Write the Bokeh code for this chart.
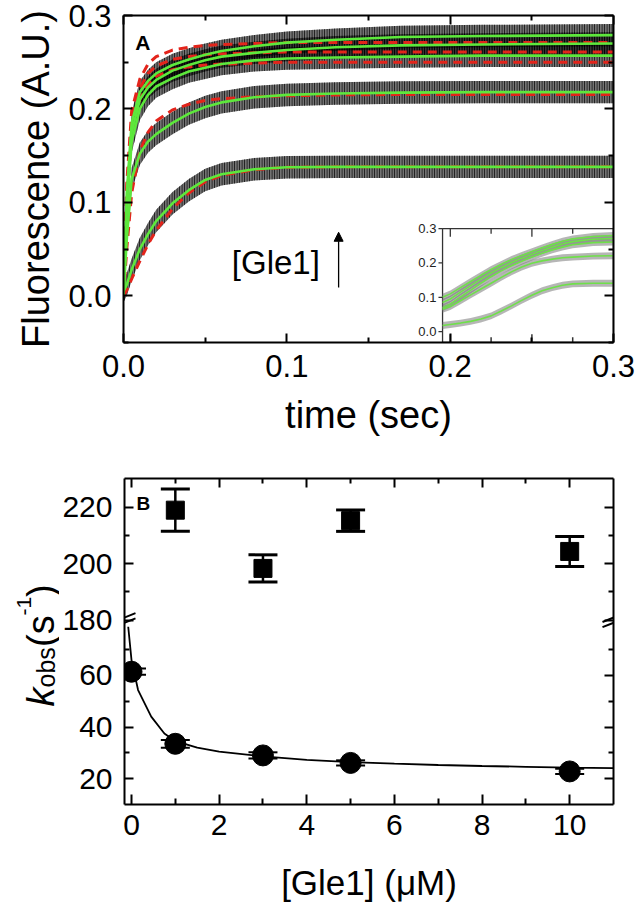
import math
import numpy as np
from bokeh.plotting import figure
from bokeh.models import Range1d, LinearAxis, FixedTicker, Label, Arrow, NormalHead
from bokeh.layouts import column, row
from bokeh.embed import file_html
from bokeh.resources import INLINE
from bokeh.core.properties import value

FONT = "Liberation Sans"

# ---------------- Panel A: stopped-flow traces ----------------
time_s = [0.0, 0.002, 0.005, 0.01, 0.015, 0.02, 0.03, 0.04, 0.05, 0.06, 0.08, 0.10, 0.13, 0.17, 0.22, 0.30]
# double-exponential fits (green)
fit2_1 = [0.0, 0.110, 0.185, 0.218, 0.230, 0.238, 0.247, 0.253, 0.258, 0.262, 0.267, 0.271, 0.274, 0.277, 0.278, 0.279]
fit2_2 = [0.0, 0.100, 0.175, 0.210, 0.223, 0.231, 0.241, 0.247, 0.252, 0.256, 0.260, 0.263, 0.266, 0.268, 0.269, 0.270]
fit2_3 = [0.0, 0.090, 0.165, 0.200, 0.215, 0.224, 0.233, 0.240, 0.244, 0.248, 0.252, 0.254, 0.255, 0.256, 0.257, 0.257]
fit2_4 = [0.0, 0.060, 0.125, 0.152, 0.165, 0.173, 0.185, 0.195, 0.202, 0.207, 0.2125, 0.215, 0.2165, 0.2175, 0.218, 0.218]
fit2_5 = [0.005, 0.012, 0.028, 0.050, 0.066, 0.080, 0.099, 0.113, 0.124, 0.130, 0.1355, 0.1375, 0.138, 0.138, 0.138, 0.138]
# single-exponential fits (red dashed)
fit1_1 = [0.0, 0.120, 0.198, 0.232, 0.248, 0.256, 0.263, 0.266, 0.268, 0.269, 0.270, 0.271, 0.271, 0.271, 0.271, 0.271]
fit1_2 = [0.0, 0.110, 0.188, 0.222, 0.238, 0.246, 0.253, 0.256, 0.258, 0.259, 0.260, 0.261, 0.261, 0.261, 0.261, 0.261]
fit1_3 = [0.0, 0.100, 0.175, 0.210, 0.226, 0.235, 0.242, 0.245, 0.247, 0.248, 0.249, 0.250, 0.250, 0.250, 0.250, 0.250]
fit1_4 = [0.0, 0.050, 0.110, 0.155, 0.175, 0.187, 0.199, 0.205, 0.209, 0.211, 0.213, 0.214, 0.215, 0.2155, 0.2155, 0.2155]
fit1_5 = [0.0, 0.006, 0.018, 0.037, 0.055, 0.070, 0.093, 0.110, 0.122, 0.129, 0.135, 0.1375, 0.138, 0.138, 0.138, 0.138]
trace_spread = 0.012          # half width of the noisy data band around each trace

time_ticks = [0.0, 0.1, 0.2, 0.3]
time_tick_labels = ["0.0", "0.1", "0.2", "0.3"]
fluo_ticks = [0.0, 0.1, 0.2, 0.3]
fluo_tick_labels = ["0.0", "0.1", "0.2", "0.3"]

# inset (early times)
inset_t = [-0.19, 0.0, 0.25, 0.5, 0.75, 1.0, 1.25, 1.5, 1.75, 2.0, 2.25, 2.5, 2.75, 3.0, 3.5, 4.0]
inset_1 = [0.100, 0.110, 0.128, 0.146, 0.164, 0.181, 0.196, 0.210, 0.222, 0.233, 0.244, 0.254, 0.263, 0.270, 0.277, 0.280]
inset_2 = [0.085, 0.095, 0.115, 0.134, 0.153, 0.171, 0.187, 0.201, 0.214, 0.225, 0.236, 0.246, 0.255, 0.262, 0.269, 0.271]
inset_3 = [0.070, 0.080, 0.101, 0.121, 0.141, 0.160, 0.177, 0.192, 0.205, 0.217, 0.228, 0.238, 0.246, 0.253, 0.259, 0.261]
inset_4 = [0.065, 0.073, 0.090, 0.107, 0.124, 0.141, 0.158, 0.174, 0.188, 0.199, 0.206, 0.211, 0.215, 0.217, 0.220, 0.221]
inset_5 = [0.018, 0.021, 0.025, 0.030, 0.037, 0.046, 0.060, 0.075, 0.091, 0.106, 0.119, 0.128, 0.135, 0.139, 0.141, 0.141]
inset_spread = 0.010
inset_yticks = [0.0, 0.1, 0.2, 0.3]
inset_ytick_labels = ["0.0", "0.1", "0.2", "0.3"]
inset_xticks = [0, 1, 2, 3, 4]

# ---------------- Panel B: kobs vs [Gle1] ----------------
gle1_fast = [1, 3, 5, 10]
kobs_fast = [218.9, 198.3, 215.2, 204.3]
kobs_fast_err = [7.5, 4.8, 3.8, 5.3]
gle1_slow = [0, 1, 3, 5, 10]
kobs_slow = [61.4, 33.5, 29.0, 26.1, 22.8]
kobs_slow_err = [1.2, 1.5, 1.2, 1.0, 1.0]
fit_gle1 = [-0.075, 0.0, 0.15, 0.45, 0.75, 1.0, 1.5, 2, 3, 4, 5, 6, 7, 8, 9, 10, 11]
fit_kobs = [78.8, 65.9, 54.3, 44.0, 37.5, 34.5, 32.0, 30.5, 28.6, 27.3, 26.4, 25.8, 25.3, 24.9, 24.6, 24.3, 24.1]

gle1_ticks = [0, 2, 4, 6, 8, 10]
gle1_minor = [1, 3, 5, 7, 9]
low_ticks = [20, 40, 60]
low_minor = [30, 50, 70]
up_ticks = [180, 200, 220]
up_minor = [190, 210]

GREEN = "#5de83c"
RED = "#e3241b"


def style_axis(ax, show_labels=True, label_size="31px", tin=9, tmin=5):
    ax.axis_line_width = 2
    ax.axis_line_color = "black"
    ax.major_tick_in = tin
    ax.major_tick_out = 0
    ax.minor_tick_in = tmin
    ax.minor_tick_out = 0
    ax.major_tick_line_width = 2
    ax.minor_tick_line_width = 2
    ax.major_label_text_font = FONT
    ax.major_label_text_color = "black"
    ax.major_label_text_font_size = label_size if show_labels else "0px"
    ax.axis_label_text_font = FONT
    ax.axis_label_text_font_style = "normal"
    ax.axis_label_text_font_size = "38px"
    ax.axis_label_text_color = "black"


# =============================== Panel A (page y 0-460) ===============================
pA = figure(width=636, height=460,
            x_range=Range1d(0, 0.3), y_range=Range1d(-0.05, 0.30),
            extra_x_ranges={"ix": Range1d(-8.01, 4.0)},
            extra_y_ranges={"iy": Range1d(-0.0315, 0.92)},
            output_backend="svg", toolbar_location=None,
            min_border_left=123, min_border_right=23, min_border_top=15, min_border_bottom=118)
pA.grid.visible = False
pA.outline_line_color = None

xt = FixedTicker(ticks=time_ticks, minor_ticks=[0.05, 0.15, 0.25])
yt = FixedTicker(ticks=fluo_ticks, minor_ticks=[-0.05, 0.05, 0.15, 0.25])
pA.xaxis.ticker = xt
pA.yaxis.ticker = yt
pA.xaxis.major_label_overrides = dict(zip(time_ticks, time_tick_labels))
pA.yaxis.major_label_overrides = dict(zip(fluo_ticks, fluo_tick_labels))
pA.xaxis.axis_label = "time (sec)"
pA.yaxis.axis_label = "Fluorescence (A.U.)"
for ax in pA.xaxis + pA.yaxis:
    style_axis(ax)
pA.xaxis.major_label_standoff = 12
pA.xaxis.axis_label_standoff = 14
pA.yaxis.major_label_standoff = 12
pA.yaxis.axis_label_standoff = 8
topA = LinearAxis(ticker=xt)
rightA = LinearAxis(ticker=yt)
style_axis(topA, show_labels=False)
style_axis(rightA, show_labels=False)
pA.add_layout(topA, "above")
pA.add_layout(rightA, "right")

greens = [fit2_1, fit2_2, fit2_3, fit2_4, fit2_5]
reds = [fit1_1, fit1_2, fit1_3, fit1_4, fit1_5]
for g in greens:
    ga = np.array(g)
    pA.varea(x=time_s, y1=ga - trace_spread, y2=ga + trace_spread,
             fill_color="black", fill_alpha=0.55,
             hatch_pattern="vertical_line", hatch_color="black", hatch_scale=2.5,
             hatch_weight=1.0, hatch_alpha=0.85)
for r in reds:
    pA.line(time_s, r, line_color=RED, line_width=3, line_dash="9 6")
for g in greens:
    pA.line(time_s, g, line_color=GREEN, line_width=2.6)

# inset
pA.quad(left=[inset_t[0]], right=[inset_t[-1]], bottom=[-0.0315], top=[0.3],
        x_range_name="ix", y_range_name="iy",
        fill_color="white", line_color="#333333", line_width=1.3)
for g in [inset_1, inset_2, inset_3, inset_4, inset_5]:
    ga = np.array(g)
    pA.varea(x=inset_t, y1=ga - inset_spread, y2=ga + inset_spread,
             x_range_name="ix", y_range_name="iy",
             fill_color="#7a7a7a", fill_alpha=0.55)
for g in [inset_1, inset_2, inset_3, inset_4, inset_5]:
    pA.line(inset_t, g, x_range_name="ix", y_range_name="iy",
            line_color="#6fe04a", line_width=1.6)
ix0 = inset_t[0]
pA.segment(x0=[ix0] * 4, x1=[ix0 - 0.1] * 4, y0=inset_yticks, y1=inset_yticks,
           x_range_name="ix", y_range_name="iy", line_color="#333333", line_width=1.3)
tick_len = [0.024 if v % 2 == 0 else 0.015 for v in inset_xticks]
pA.segment(x0=inset_xticks, x1=inset_xticks, y0=[-0.0315] * 5,
           y1=[-0.0315 + L for L in tick_len],
           x_range_name="ix", y_range_name="iy", line_color="#333333", line_width=1.5)
pA.segment(x0=inset_xticks, x1=inset_xticks, y0=[0.3] * 5,
           y1=[0.3 - L for L in tick_len],
           x_range_name="ix", y_range_name="iy", line_color="#333333", line_width=1.3)
pA.text(x=[ix0 - 0.15] * 4, y=inset_yticks, text=inset_ytick_labels,
        x_range_name="ix", y_range_name="iy",
        text_font=value(FONT), text_font_size="13px", text_align="right",
        text_baseline="middle", text_color="#222222")

pA.add_layout(Label(x=0.0072, y=0.259, text="A", text_font=FONT, text_font_size="21px",
                    text_font_style="bold", text_color="black"))
pA.add_layout(Label(x=0.0663, y=0.016, text="[Gle1]", text_font=FONT, text_font_size="33px",
                    text_color="black"))
pA.add_layout(Arrow(end=NormalHead(size=9, fill_color="black", line_color="black"),
                    x_start=0.1317, y_start=0.009, x_end=0.1317, y_end=0.068,
                    line_color="black", line_width=1.3))

# =============================== Panel B (page y 460-913) ===============================
XB = (-0.16, 11.0)
YLOW = (10.0, 136.2)
YUP = (114.8, 230.1)
pB = figure(width=577, height=453,
            x_range=Range1d(*XB), y_range=Range1d(*YLOW),
            extra_y_ranges={"up": Range1d(*YUP)},
            output_backend="svg", toolbar_location=None,
            min_border_left=64, min_border_right=23, min_border_top=18, min_border_bottom=109)
pB.grid.visible = False
pB.outline_line_color = None


def up_to_low(v):
    return YLOW[0] + (v - YUP[0]) / (YUP[1] - YUP[0]) * (YLOW[1] - YLOW[0])


up_pos = [round(up_to_low(v), 6) for v in up_ticks]
up_minor_pos = [round(up_to_low(v), 6) for v in up_minor]
y_break = round(up_to_low(180), 6)

bx_t = FixedTicker(ticks=gle1_ticks, minor_ticks=gle1_minor)
by_t = FixedTicker(ticks=low_ticks + up_pos, minor_ticks=low_minor + up_minor_pos)
pB.xaxis.ticker = bx_t
pB.yaxis.ticker = by_t
pB.xaxis.major_label_overrides = {v: str(v) for v in gle1_ticks}
overrides = {v: str(v) for v in low_ticks}
overrides.update({p: str(v) for p, v in zip(up_pos, up_ticks)})
pB.yaxis.major_label_overrides = overrides
pB.xaxis.axis_label = "[Gle1] (\u03bcM)"
for ax in pB.xaxis + pB.yaxis:
    style_axis(ax, label_size="30px")
pB.xaxis.axis_label_text_font_size = "35px"
pB.xaxis.major_tick_in = 10
pB.xaxis.minor_tick_in = 6
pB.xaxis.major_label_standoff = 10
pB.xaxis.axis_label_standoff = 25
pB.yaxis.major_label_standoff = 12
topB = LinearAxis(ticker=bx_t)
rightB = LinearAxis(ticker=by_t)
style_axis(topB, show_labels=False)
style_axis(rightB, show_labels=False)
pB.add_layout(topB, "above")
pB.add_layout(rightB, "right")

# fast phase (upper scale)
fast_lo = [v - e for v, e in zip(kobs_fast, kobs_fast_err)]
fast_hi = [v + e for v, e in zip(kobs_fast, kobs_fast_err)]
pB.segment(x0=gle1_fast, x1=gle1_fast, y0=fast_lo, y1=fast_hi, y_range_name="up",
           line_color="black", line_width=2.5)
pB.scatter(gle1_fast, fast_lo, marker="dash", size=29, line_width=3, line_color="black",
           y_range_name="up")
pB.scatter(gle1_fast, fast_hi, marker="dash", size=29, line_width=3, line_color="black",
           y_range_name="up")
pB.scatter(gle1_fast, kobs_fast, marker="square", size=18, fill_color="black",
           line_color="black", y_range_name="up")

# slow phase (lower scale)
pB.line(fit_gle1, fit_kobs, line_color="black", line_width=1.8)
slow_lo = [v - e for v, e in zip(kobs_slow, kobs_slow_err)]
slow_hi = [v + e for v, e in zip(kobs_slow, kobs_slow_err)]
pB.scatter(gle1_slow, slow_lo, marker="dash", size=29, line_width=2, line_color="black")
pB.scatter(gle1_slow, slow_hi, marker="dash", size=29, line_width=2, line_color="black")
pB.scatter(gle1_slow, kobs_slow, marker="circle", size=21, fill_color="black", line_color="black")


# page-pixel helpers (frame of panel B: x 123-613, y 478-804 on the page)
def bx(px):
    return XB[0] + (px - 123) / 490 * (XB[1] - XB[0])


def by(py):
    return YLOW[0] + (804 - py) / 326 * (YLOW[1] - YLOW[0])


def bpy(y):
    return 804 - (y - YLOW[0]) / (YLOW[1] - YLOW[0]) * 326


# axis-break marks (inner halves, the frame clips the rest)
ybp = bpy(y_break)
for xe in (123, 613):
    for off in (2.6, -2.6):
        pB.segment(x0=[bx(xe - 11)], y0=[by(ybp + off + 4.4)],
                   x1=[bx(xe + 11)], y1=[by(ybp + off - 4.4)],
                   line_color="black", line_width=2)

pB.add_layout(Label(x=bx(135), y=by(513), text="B", text_font=FONT, text_font_size="19px",
                    text_font_style="bold", text_color="black"))

# y-axis title k_obs(s^-1) in a narrow strip left of panel B; its frame is aligned with
# panel B's frame (page y 478-804), x spans page 0-59
labB = figure(width=59, height=453, x_range=Range1d(0, 59), y_range=Range1d(0, 326),
              x_axis_type=None, y_axis_type=None,
              output_backend="svg", toolbar_location=None,
              min_border_left=0, min_border_right=0, min_border_top=18, min_border_bottom=109)
labB.grid.visible = False
labB.outline_line_color = None
ylab = [("k", 40, 706, "38px", "italic"),
        ("obs", 45, 687, "25px", "normal"),
        ("(s", 40, 646.5, "38px", "normal"),
        ("-1", 23, 615, "21px", "normal"),
        (")", 40, 596.5, "38px", "normal")]
for txt, px, py, fs, st in ylab:
    labB.add_layout(Label(x=px, y=804 - py, text=txt, angle=math.pi / 2,
                          text_font=FONT, text_font_size=fs, text_font_style=st,
                          text_align="left", text_baseline="alphabetic", text_color="black"))

layout = column(pA, row(labB, pB))
open("out.html", "w").write(file_html(layout, INLINE))
